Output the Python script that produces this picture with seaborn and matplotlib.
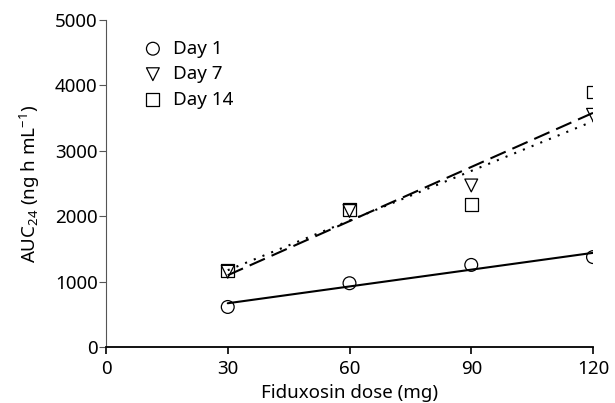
import numpy as np
import pandas as pd
import matplotlib
matplotlib.use("Agg")
import matplotlib.pyplot as plt
import seaborn as sns

# Data
doses = [30, 60, 90, 120]
day1 = [612, 975, 1255, 1375]
day7 = [1150, 2080, 2470, 3550]
day14 = [1170, 2100, 2185, 3900]
day_labels = ["Day 1", "Day 7", "Day 14"]
x_ticks = [0, 30, 60, 90, 120]
y_ticks = [0, 1000, 2000, 3000, 4000, 5000]

sns.set_theme(style="white")
plt.rcParams['font.family'] = ['Noto Sans', 'DejaVu Sans']
plt.rcParams['mathtext.fontset'] = 'custom'
plt.rcParams['mathtext.rm'] = 'Noto Sans'
plt.rcParams['mathtext.it'] = 'Noto Sans'
plt.rcParams['text.color'] = 'black'
plt.rcParams['axes.labelcolor'] = 'black'

FS = 13.5

df = pd.DataFrame({
    "dose": doses * 3,
    "auc": day1 + day7 + day14,
    "day": [day_labels[0]] * 4 + [day_labels[1]] * 4 + [day_labels[2]] * 4,
})

fig = plt.figure(figsize=(6.15, 4.03), dpi=100)
ax = fig.add_axes([106/615, 1 - 347/403, 487/615, 327/403])

markers = {"Day 1": "o", "Day 7": "v", "Day 14": "s"}
lines = {"Day 1": "-", "Day 7": (0, (1, 3.5)), "Day 14": (0, (8, 3.5))}

for d in day_labels:
    sub = df[df["day"] == d]
    sns.regplot(data=sub, x="dose", y="auc", ax=ax, ci=None, scatter=False,
                truncate=True, color="black",
                line_kws=dict(linestyle=lines[d], linewidth=1.5))

for d in day_labels:
    sub = df[df["day"] == d]
    ax.scatter(sub["dose"], sub["auc"], marker=markers[d], s=85,
               facecolors="none", edgecolors="black", linewidths=0.9,
               label=d, zorder=3)

ax.set_xlim(0, 120)
ax.set_ylim(0, 5000)
ax.set_xticks(x_ticks)
ax.set_yticks(y_ticks)
ax.tick_params(axis="both", labelsize=FS, labelcolor="black")
ax.tick_params(axis="x", direction="out", length=5, width=1.2, color="black", pad=4, bottom=True)
ax.tick_params(axis="y", direction="out", length=5, width=0.8, color="#555555", pad=1, left=True)

for s in ["top", "right"]:
    ax.spines[s].set_visible(False)
ax.spines["left"].set_color("#555555")
ax.spines["left"].set_linewidth(0.8)
ax.spines["bottom"].set_color("black")
ax.spines["bottom"].set_linewidth(1.3)

ax.set_xlabel("Fiduxosin dose (mg)", fontsize=FS, labelpad=5)
ax.set_ylabel("AUC$_{24}$ (ng h mL$^{-1}$)", fontsize=FS, labelpad=9)

leg = ax.legend(loc="upper left", bbox_to_anchor=(0.077, 0.94), frameon=False,
                fontsize=FS, handlelength=1.0, handletextpad=0.6,
                labelspacing=0.4, borderaxespad=0, borderpad=0)

fig.savefig("out.png", dpi=100)
